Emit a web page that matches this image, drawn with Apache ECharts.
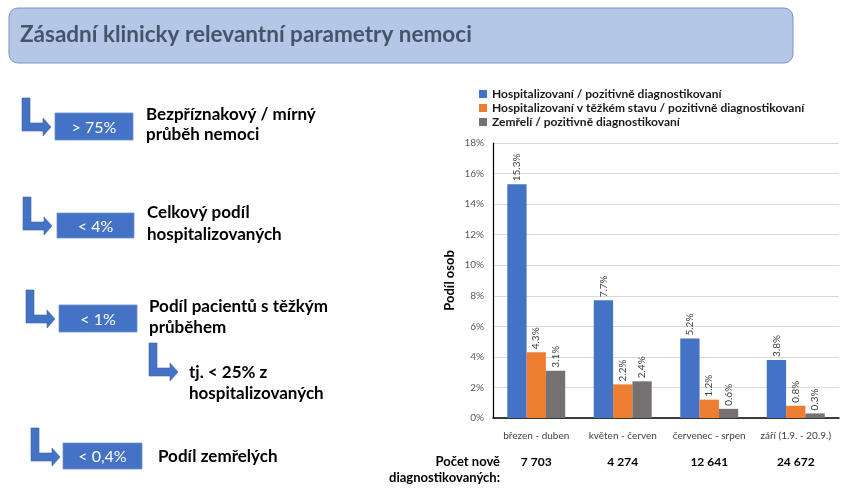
<!DOCTYPE html>
<html><head><meta charset="utf-8">
<script src="https://cdn.jsdelivr.net/npm/echarts/dist/echarts.min.js"></script>
<style>html,body{margin:0;padding:0;background:#fff}#c{width:852px;height:488px}</style>
</head><body><div id="c"></div>
<script>
// ---- data ----
const categories = ['březen - duben', 'květen - červen', 'červenec - srpen', 'září (1.9. - 20.9.)'];
const seriesNames = [
  'Hospitalizovaní / pozitivně diagnostikovaní',
  'Hospitalizovaní v těžkém stavu / pozitivně diagnostikovaní',
  'Zemřelí / pozitivně diagnostikovaní'
];
const hospitalized = [15.3, 7.7, 5.2, 3.8];
const severe = [4.3, 2.2, 1.2, 0.8];
const deceased = [3.1, 2.4, 0.6, 0.3];
const newCases = ['7 703', '4 274', '12 641', '24 672'];
const yMin = 0, yMax = 18, yStep = 2;
const titleText = 'Zásadní klinicky relevantní parametry nemoci';
const factValues = ['> 75%', '< 4%', '< 1%', '< 0,4%'];
const factTexts = [
  ['Bezpříznakový / mírný', 'průběh nemoci'],
  ['Celkový podíl', 'hospitalizovaných'],
  ['Podíl pacientů s těžkým', 'průběhem'],
  ['tj. < 25% z', 'hospitalizovaných'],
  ['Podíl zemřelých']
];
const countLabel = ['Počet nově', 'diagnostikovaných:'];

// ---- layout ----
const F = "Lato, 'Liberation Sans', sans-serif";
const BLUE = '#4472C4';
const chart = echarts.init(document.getElementById('c'), null, {renderer: 'canvas'});

function arrow(x, y) {
  const h = 29;
  return {
    type: 'polygon',
    shape: {points: [[x, y], [x + 8, y], [x + 8, y + h - 4], [x + 21, y + h - 4], [x + 21, y + h - 9],
      [x + 29, y + h], [x + 21, y + h + 9], [x + 21, y + h + 4], [x, y + h + 4]]},
    style: {fill: BLUE, stroke: '#3A62AC', lineWidth: 0.6}
  };
}
function box(x, y, w, h, t) {
  return [
    {type: 'rect', shape: {x: x, y: y, width: w, height: h}, style: {fill: BLUE, stroke: '#6E8FD0', lineWidth: 0.8}},
    {type: 'text', style: {text: t, x: x + w / 2, y: y + h / 2 + 1, textAlign: 'center', textVerticalAlign: 'middle',
      font: '16px ' + F, fill: '#fff'}}
  ];
}
function lines(x, y, arr, lh, font, align) {
  return arr.map((t, i) => ({type: 'text', style: {text: t, x: x, y: y + i * lh, textAlign: align || 'left',
    textVerticalAlign: 'middle', font: font, fill: '#000'}}));
}

const headFont = 'bold 17px ' + F;
const graphics = [
  {type: 'rect', shape: {x: 9, y: 8, width: 784, height: 55, r: 9}, style: {fill: '#B4C7E7', stroke: '#7A93C4', lineWidth: 1}},
  {type: 'text', style: {text: titleText, x: 20, y: 35, textVerticalAlign: 'middle', font: 'bold 22.5px ' + F, fill: '#44546A'}},
  arrow(22, 98), ...box(55, 113, 78, 27, factValues[0]), ...lines(146, 115, factTexts[0], 20, headFont),
  arrow(23, 197), ...box(57, 213, 77, 25, factValues[1]), ...lines(147, 213, factTexts[1], 22, headFont),
  arrow(26, 290), ...box(59, 305, 78, 27, factValues[2]), ...lines(149, 307, factTexts[2], 21, headFont),
  arrow(149, 343), ...lines(189, 373, factTexts[3], 21, headFont),
  arrow(31, 428), ...box(63, 443, 79, 26, factValues[3]), ...lines(158, 457, factTexts[4], 21, headFont),
  ...lines(500, 462, countLabel, 16, 'bold 13px ' + F, 'right')
];

const labelCfg = {
  show: true, position: 'top', rotate: 90, align: 'left', verticalAlign: 'middle', distance: 3,
  fontFamily: F, fontSize: 10, color: '#404040',
  formatter: p => p.value.toFixed(1) + '%'
};
const colors = ['#4472C4', '#ED7D31', '#767171'];
const dataSets = [hospitalized, severe, deceased];

chart.setOption({
  animation: false,
  color: colors,
  textStyle: {fontFamily: F},
  grid: {left: 493, right: 13, top: 143, bottom: 70},
  legend: {
    orient: 'vertical', left: 474, top: 83, itemWidth: 8, itemHeight: 8, itemGap: 2, icon: 'rect',
    textStyle: {fontFamily: F, fontSize: 12, fontWeight: 'bold', color: '#1a1a1a', lineHeight: 12},
    data: seriesNames
  },
  xAxis: [
    {type: 'category', data: categories, axisTick: {show: false},
      axisLine: {lineStyle: {color: '#000', width: 1.5}},
      axisLabel: {interval: 0, fontFamily: F, fontSize: 10, color: '#404040', margin: 13}},
    {type: 'category', data: newCases, position: 'bottom', offset: 0, axisTick: {show: false},
      axisLine: {show: false}, splitLine: {show: false},
      axisLabel: {interval: 0, fontFamily: F, fontSize: 12, fontWeight: 'bold', color: '#000', margin: 38}}
  ],
  yAxis: {
    type: 'value', min: yMin, max: yMax, interval: yStep,
    name: 'Podíl osob', nameLocation: 'middle', nameGap: 37,
    nameTextStyle: {fontFamily: F, fontSize: 13, fontWeight: 'bold', color: '#000'},
    axisLine: {show: true, lineStyle: {color: '#000', width: 1.2}}, axisTick: {show: false},
    axisLabel: {fontFamily: F, fontSize: 10, color: '#595959', formatter: '{value}%', margin: 9},
    splitLine: {lineStyle: {color: '#D9D9D9'}}
  },
  series: seriesNames.map((n, i) => ({
    name: n, type: 'bar', data: dataSets[i], barGap: '0%', barCategoryGap: '33%', label: labelCfg
  })),
  graphic: graphics
});
</script></body></html>
